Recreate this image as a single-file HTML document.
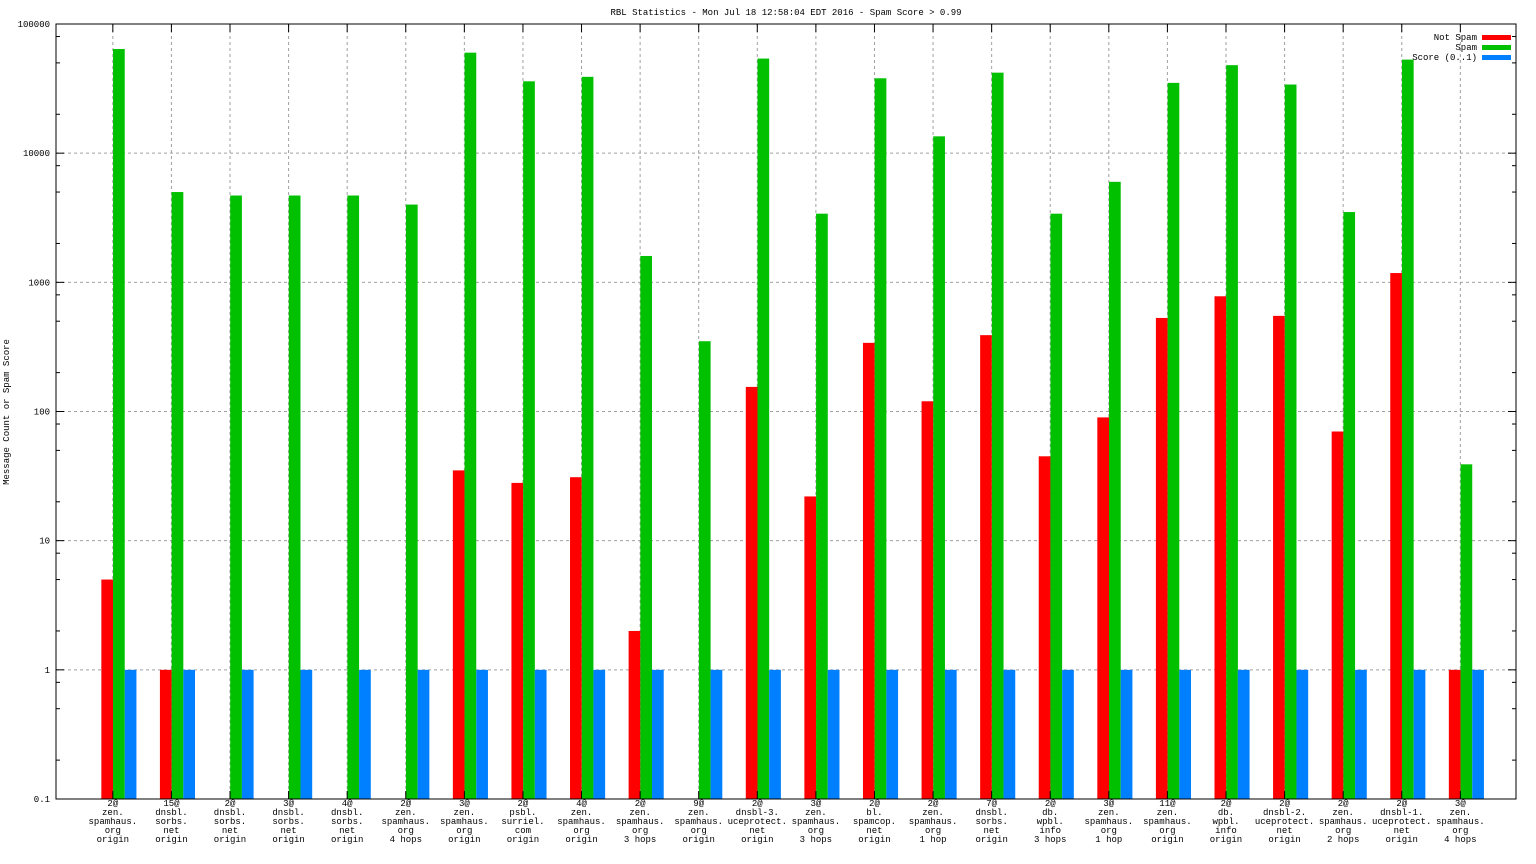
<!DOCTYPE html>
<html><head><meta charset="utf-8"><style>
body{margin:0;background:#fff;}
svg{display:block;font-family:"Liberation Mono",monospace;font-size:9px;}
</style></head><body>
<svg id="chart" width="1536" height="864" xmlns="http://www.w3.org/2000/svg">
<rect width="1536" height="864" fill="#fff"/>
<text x="786" y="15" text-anchor="middle">RBL Statistics - Mon Jul 18 12:58:04 EDT 2016 - Spam Score &gt; 0.99</text>
<text transform="translate(9,412) rotate(-90)" text-anchor="middle">Message Count or Spam Score</text>
<g id="grid"></g><g id="bars"></g><g id="axes"></g>
<g>
<text x="1477" y="40" text-anchor="end">Not Spam</text>
<rect x="1482" y="35" width="29" height="5" fill="#ff0000"/>
<text x="1477" y="50" text-anchor="end">Spam</text>
<rect x="1482" y="45" width="29" height="5" fill="#00c000"/>
<text x="1477" y="60" text-anchor="end">Score (0..1)</text>
<rect x="1482" y="55" width="29" height="5" fill="#0080ff"/>
</g>
</svg>
<script>
const categories=[["2@","zen.","spamhaus.","org","origin"],["15@","dnsbl.","sorbs.","net","origin"],["2@","dnsbl.","sorbs.","net","origin"],["3@","dnsbl.","sorbs.","net","origin"],["4@","dnsbl.","sorbs.","net","origin"],["2@","zen.","spamhaus.","org","4 hops"],["3@","zen.","spamhaus.","org","origin"],["2@","psbl.","surriel.","com","origin"],["4@","zen.","spamhaus.","org","origin"],["2@","zen.","spamhaus.","org","3 hops"],["9@","zen.","spamhaus.","org","origin"],["2@","dnsbl-3.","uceprotect.","net","origin"],["3@","zen.","spamhaus.","org","3 hops"],["2@","bl.","spamcop.","net","origin"],["2@","zen.","spamhaus.","org","1 hop"],["7@","dnsbl.","sorbs.","net","origin"],["2@","db.","wpbl.","info","3 hops"],["3@","zen.","spamhaus.","org","1 hop"],["11@","zen.","spamhaus.","org","origin"],["2@","db.","wpbl.","info","origin"],["2@","dnsbl-2.","uceprotect.","net","origin"],["2@","zen.","spamhaus.","org","2 hops"],["2@","dnsbl-1.","uceprotect.","net","origin"],["3@","zen.","spamhaus.","org","4 hops"]];
const notSpam=[5,1,0,0,0,0,35,28,31,2,0,155,22,340,120,390,45,90,530,780,550,70,1180,1];
const spam=[64000,5000,4700,4700,4700,4000,60000,36000,39000,1600,350,54000,3400,38000,13500,42000,3400,6000,35000,48000,34000,3500,53000,39];
const score=[1,1,1,1,1,1,1,1,1,1,1,1,1,1,1,1,1,1,1,1,1,1,1,1];
const yTicks=[0.1,1,10,100,1000,10000,100000];
const yTickLabels=["0.1","1","10","100","1000","10000","100000"];

const NS="http://www.w3.org/2000/svg";
const L=56,R=1516,T=24,B=799;
const yMinLog=-1,yMaxLog=5;
function y(v){return B-(Math.log10(v)-yMinLog)/(yMaxLog-yMinLog)*(B-T);}
const step=(R-L)/24.92;
function x(i){return L+step*(i+0.97);}
function el(tag,attrs,parent){const e=document.createElementNS(NS,tag);for(const k in attrs)e.setAttribute(k,attrs[k]);parent.appendChild(e);return e;}
const grid=document.getElementById('grid'),bars=document.getElementById('bars'),axes=document.getElementById('axes');
yTicks.forEach((t,i)=>{
  const yy=y(t);
  if(i>0&&i<yTicks.length-1){const g=el('line',{x1:L,x2:R,y1:yy,y2:yy,stroke:'#a0a0a0','stroke-dasharray':'3,3'},grid);
  
  }
  el('line',{x1:L,x2:L+8,y1:yy,y2:yy,stroke:'#000'},axes);
  el('line',{x1:R,x2:R-8,y1:yy,y2:yy,stroke:'#000'},axes);
  const tx=el('text',{x:L-6,y:yy+3,'text-anchor':'end'},axes);
  tx.textContent=yTickLabels[i];
  
  
  if(i<yTicks.length-1){[2,5,8].forEach(m=>{const my=y(t*m);
    el('line',{x1:L,x2:L+4,y1:my,y2:my,stroke:'#000'},axes);
    el('line',{x1:R,x2:R-4,y1:my,y2:my,stroke:'#000'},axes);});}
});
const cols=['#ff0000','#00c000','#0080ff'],series=[notSpam,spam,score],names=['not-spam','spam','score'];
categories.forEach((c,i)=>{
  const cx=x(i);
  const g=el('line',{x1:cx,x2:cx,y1:T,y2:B,stroke:'#a0a0a0','stroke-dasharray':'3,3'},grid);
  
  
  el('line',{x1:cx,x2:cx,y1:B,y2:B-8,stroke:'#000'},axes);
  el('line',{x1:cx,x2:cx,y1:T,y2:T+8,stroke:'#000'},axes);
  const t=el('text',{x:cx,y:B+7,'text-anchor':'middle'},axes);
  
  
  c.forEach((s,j)=>{const ts=el('tspan',{x:cx,dy:j?9:0},t);ts.textContent=s;});
  series.forEach((arr,k)=>{
    const v=arr[i]; if(!(v>0))return;
    const x0=cx-11.5+k*11.7, yy=y(v);
    const r=el('rect',{x:x0,y:yy,width:11.7,height:B-yy,fill:cols[k]},bars);
    
    
  });
});
const fr=el('rect',{x:L,y:T,width:R-L,height:B-T,fill:'none',stroke:'#000'},axes);


</script>
</body></html>
